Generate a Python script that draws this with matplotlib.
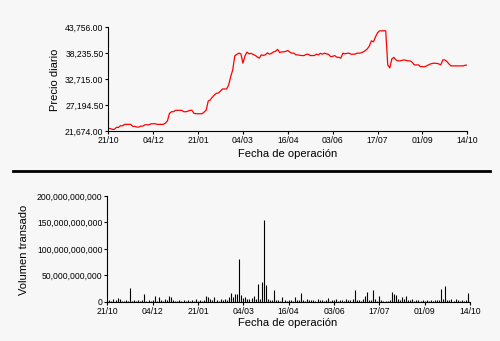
import matplotlib.pyplot as plt
import numpy as np
from matplotlib.lines import Line2D
from matplotlib.ticker import FuncFormatter

plt.rcParams['font.family'] = ['Liberation Sans', 'DejaVu Sans']

# Etiquetas de fecha (eje x compartido)
fechas = ['21/10', '04/12', '21/01', '04/03', '16/04', '03/06', '17/07', '01/09', '14/10']

# Precio diario por sesión
precio = [
    22290, 22247, 22077, 22077, 22502, 22502, 22842, 22842, 23139, 23139,
    23139, 23139, 22714, 22714, 22566, 22566, 22778, 22778, 23054, 23054,
    23054, 23266, 23266, 23266, 23139, 23139, 23139, 23139, 23415, 23903,
    25474, 25814, 25814, 26111, 26111, 26111, 26111, 25814, 25814, 25920,
    26111, 26111, 25474, 25389, 25389, 25389, 25389, 25750, 26175, 28085,
    28298, 28935, 29359, 29720, 29784, 30208, 30633, 30633, 30633, 31482,
    33244, 34667, 37639, 37957, 38212, 38064, 36089, 37639, 38424, 38064,
    38170, 37957, 37745, 37427, 37150, 37851, 37745, 37851, 38276, 37999,
    38170, 38488, 38594, 39019, 38340, 38488, 38488, 38594, 38764, 38424,
    38212, 38212, 37851, 37851, 37745, 37703, 37703, 37957, 37999, 37703,
    37703, 37703, 37999, 37851, 38170, 37999, 38212, 38064, 37957, 37490,
    37533, 37703, 37363, 37320, 37150, 38212, 38064, 38170, 38212, 37999,
    37999, 37999, 38212, 38212, 38276, 38488, 38764, 39125, 39762, 40823,
    40611, 41672, 42522, 42946, 42946, 42946, 42946, 35728, 35091, 37002,
    37320, 36790, 36577, 36577, 36683, 36790, 36683, 36577, 36577, 36259,
    35728, 35728, 35728, 35367, 35367, 35304, 35516, 35728, 35941, 36047,
    36089, 36047, 35941, 35728, 36790, 36790, 36429, 35941, 35516, 35516,
    35516, 35516, 35516, 35516, 35516, 35665, 35665,
]

# Volumen transado por sesión (miles de millones)
volumen = [
    4, 3, 2, 5, 3, 7, 6, 2, 1, 3,
    2, 26.5, 2, 3, 1, 4, 2, 3, 15, 2,
    3, 1, 4, 10.7, 2, 8.8, 3, 2, 5, 4,
    11.4, 8, 3, 2, 1, 3, 2, 4, 2, 3,
    2, 3, 1, 6, 2, 3, 2, 4, 10.7, 9,
    6, 3, 8, 4, 2, 5, 3, 6, 4, 9,
    16.4, 8, 15, 14, 80.7, 12, 7, 9, 6, 5,
    7, 10, 6, 33, 5, 37, 154.5, 31, 6, 3,
    4, 22, 3, 4, 2, 9.5, 3, 2, 4, 3,
    2, 8, 3, 4, 16.5, 3, 2, 5, 3, 4,
    3, 2, 6, 3, 4, 2, 3, 7, 2, 4,
    3, 5, 2, 3, 4, 2, 5, 3, 4, 6,
    22, 3, 4, 2, 5, 10.7, 19, 4, 3, 22,
    5, 2, 10.7, 3, 2, 1, 2, 3, 19, 14.5,
    12, 6, 4, 8, 5, 10, 4, 3, 6, 2,
    4, 3, 2, 3, 2, 4, 2, 3, 2, 3,
    4, 3, 24, 5, 29.6, 4, 3, 6, 2, 5,
    3, 2, 4, 2, 3, 17, 4,
]

precio_ticks = [21674.0, 27194.5, 32715.0, 38235.5, 43756.0]
volumen_ticks = [0, 50e9, 100e9, 150e9, 200e9]

x = np.arange(len(precio))
xv = np.arange(len(volumen))
pos_ticks = np.linspace(0, len(precio) - 1, len(fechas))

fondo = '#f7f7f7'
fig = plt.figure(figsize=(5, 3.41), dpi=100, facecolor=fondo)


def estilo(ax):
    ax.set_facecolor(fondo)
    for s in ['top', 'right']:
        ax.spines[s].set_visible(False)
    for s in ['left', 'bottom']:
        ax.spines[s].set_linewidth(0.8)
    ax.tick_params(direction='out', length=2.5, width=0.8, pad=1,
                   labelsize=6.2, colors='black')
    ax.set_xticks(pos_ticks)
    ax.set_xticklabels(fechas)


# Precio diario
ax1 = fig.add_axes([0.2166, 0.6150, 0.7180, 0.3059])
estilo(ax1)
ax1.plot(x, precio, color='#ff0000', linewidth=0.9)
ax1.set_xlim(0, len(precio) - 1)
ax1.set_ylim(precio_ticks[0], precio_ticks[-1])
ax1.set_yticks(precio_ticks)
ax1.yaxis.set_major_formatter(FuncFormatter(lambda v, p: f'{v:,.2f}'))

fig.text(0.11, 0.7654, 'Precio diario', rotation=90, ha='center', va='center', fontsize=8)
fig.text(0.576, 0.5485, 'Fecha de operación', ha='center', va='center', fontsize=8)

# Separador entre paneles
fig.add_artist(Line2D([13 / 500, 490 / 500], [1 - 171 / 341] * 2, color='black', linewidth=2))

# Volumen transado
ax2 = fig.add_axes([0.2146, 0.1153, 0.7254, 0.3100])
estilo(ax2)
ax2.vlines(xv, 0, np.array(volumen) * 1e9, colors='black', linewidth=0.8)
ax2.set_xlim(0, len(volumen) - 1)
ax2.set_ylim(volumen_ticks[0], volumen_ticks[-1])
ax2.set_yticks(volumen_ticks)
ax2.yaxis.set_major_formatter(FuncFormatter(lambda v, p: f'{v:,.0f}'))

fig.text(0.049, 0.2669, 'Volumen transado', rotation=90, ha='center', va='center', fontsize=8)
fig.text(0.576, 0.0528, 'Fecha de operación', ha='center', va='center', fontsize=8)

fig.savefig('out.png', dpi=100, facecolor=fondo)
